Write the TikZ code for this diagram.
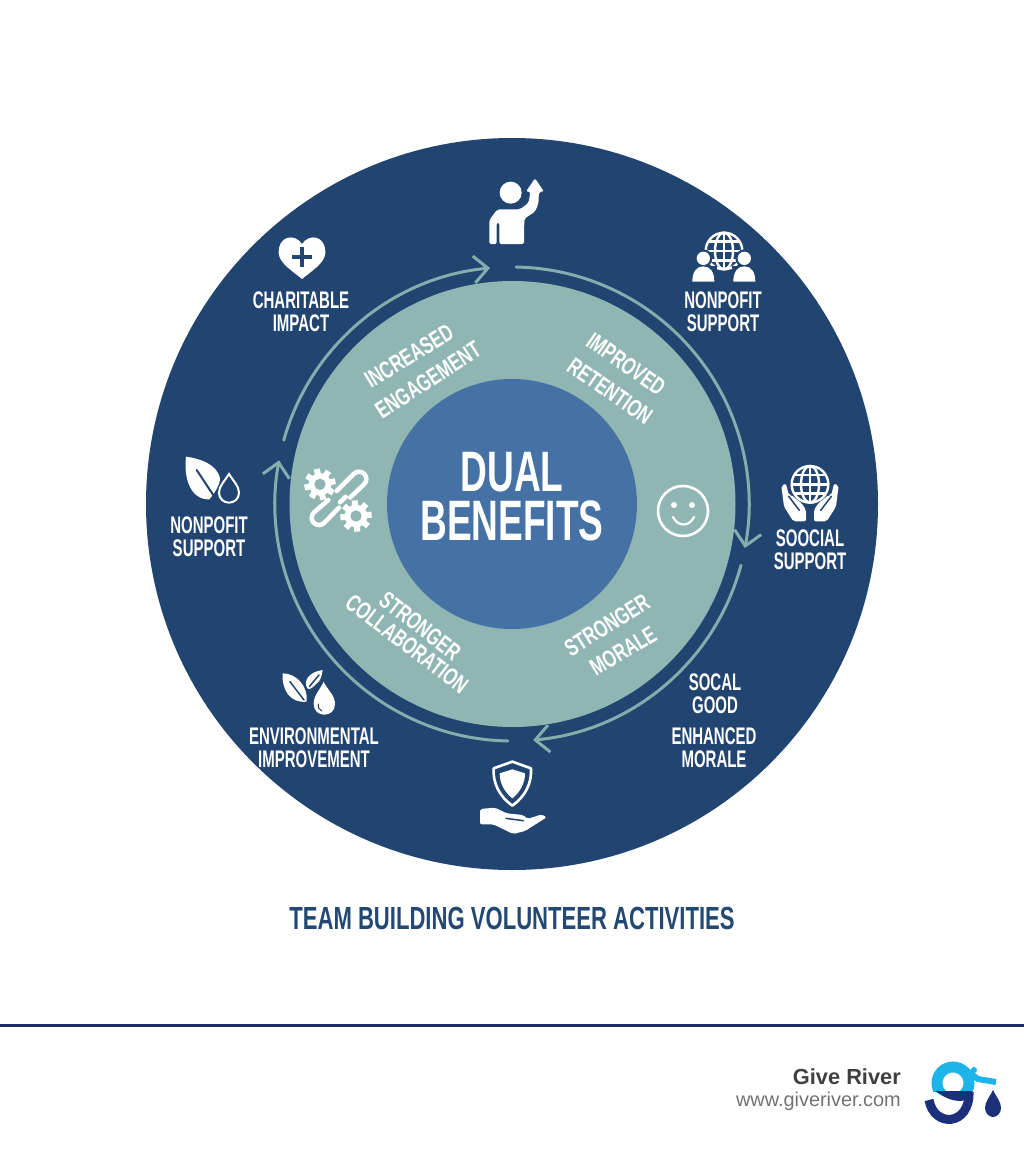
\documentclass[tikz,border=0pt]{standalone}
\usepackage{fontspec}
\usetikzlibrary{arrows.meta}
\setmainfont{Liberation Sans}
\newfontfamily\labfont[FakeStretch=0.625]{Liberation Sans}
\newfontfamily\ringfont[FakeStretch=0.70]{Liberation Sans}
\newfontfamily\dualfont[FakeStretch=0.65]{Liberation Sans}
\newfontfamily\titlefont[FakeStretch=0.69]{Liberation Sans}
\definecolor{outerblue}{HTML}{214470}
\definecolor{ringteal}{HTML}{8FB6B3}
\definecolor{coreblue}{HTML}{4671A4}
\definecolor{flowteal}{HTML}{82AEAE}
\definecolor{titleblue}{HTML}{234873}
\definecolor{ruleblue}{HTML}{1F2A6B}
\definecolor{logoblue}{HTML}{1DB5E8}
\definecolor{logonavy}{HTML}{1B2F7A}
\tikzset{
  lab/.style={text=white,font=\labfont\bfseries\fontsize{24}{23}\selectfont,align=center,inner sep=0pt},
  ringlab/.style={text=white,font=\ringfont\bfseries\fontsize{24}{25}\selectfont,inner sep=0pt},
  flow/.style={draw=flowteal,line width=3pt,line cap=round,fill=none},
  flowhead/.style={flow,-{Straight Barb[length=14pt,width=27pt,line width=3pt]}},
  zoomicon/.style={x=0.33333pt,y=-0.33333pt},
  cut/.style={draw=outerblue,line width=1.5pt,line cap=round},
  icstroke/.style={draw=white,line width=2.4pt,fill=none},
}
% gear: centre x, centre y, phase, in zoom units
\newcommand{\gearshape}[3]{%
  \foreach \a in {0,45,...,315}{
    \fill[white,rotate around={\a+#3:(#1,#2)}] (#1-9,#2-47) rectangle (#1+9,#2);
  }
  \fill[white] (#1,#2) circle[radius=34];
  \fill[ringteal] (#1,#2) circle[radius=17];
}
\begin{document}
\begin{tikzpicture}[x=1pt,y=-1pt]
\useasboundingbox (0,0) rectangle (1024,1154);
\fill[white] (0,0) rectangle (1024,1154);

% discs
\fill[outerblue] (512,504) circle[radius=366];
\fill[ringteal] (512.5,504) circle[radius=223];
\fill[coreblue] (512,504) circle[radius=125];

% flow arrows
\begin{scope}[shift={(512,504)}]
  \coordinate (a1) at (195.6:237);
  \coordinate (b1) at (271:237);
  \coordinate (c1) at (15:237);
  \coordinate (d1) at (91:237);
  \draw[flowhead] (a1) arc[start angle=195.6,end angle=264.7,radius=237];
  \draw[flowhead] (b1) arc[start angle=271,end angle=370.7,radius=237];
  \draw[flowhead] (c1) arc[start angle=15,end angle=84.9,radius=237];
  \draw[flowhead] (d1) arc[start angle=91,end angle=190.6,radius=237];
\end{scope}

% centre
\node[text=white,font=\dualfont\bfseries\fontsize{57}{58}\selectfont,inner sep=0pt] (dual) at (512,472) {DUAL};
\node[text=white,font=\dualfont\bfseries\fontsize{57}{58}\selectfont,inner sep=0pt] (benefits) at (512,521) {BENEFITS};

% ring labels
\node[ringlab,rotate=31.5] (r1a) at (409,356) {INCREASED};
\node[ringlab,rotate=33] (r1b) at (428,380) {ENGAGEMENT};
\node[ringlab,rotate=-35] (r2a) at (626,364) {IMPROVED};
\node[ringlab,rotate=-34.7] (r2b) at (610,391) {RETENTION};
\node[ringlab,rotate=-37.7] (r3a) at (420,626) {STRONGER};
\node[ringlab,rotate=-37] (r3b) at (407,644) {COLLABORATION};
\node[ringlab,rotate=32] (r4a) at (607,625) {STRONGER};
\node[ringlab,rotate=31] (r4b) at (623,651) {MORALE};

% outer labels
\node[lab] (l1) at (301,311.5) {CHARITABLE\\IMPACT};
\node[lab] (l2) at (723,311.5) {NONPOFIT\\SUPPORT};
\node[lab] (l3) at (810,549.5) {SOOCIAL\\SUPPORT};
\node[lab] (l4) at (209,536.5) {NONPOFIT\\SUPPORT};
\node[lab] (l5) at (314,747.5) {ENVIRONMENTAL\\IMPROVEMENT};
\node[lab] (l6) at (715,693.5) {SOCAL\\GOOD};
\node[lab] (l7) at (714,747.5) {ENHANCED\\MORALE};

% person with arrow
\begin{scope}[shift={(470,170)},zoomicon]
  \fill[white] (122,68) circle[radius=33];
  \fill[white,rounded corners=2pt] (58,222) -- (58,150) -- (82,118) -- (150,118) -- (176,98) -- (181,65) -- (168,65)
    -- (195,25) -- (222,65) -- (207,65) -- (205,102) -- (195,125) -- (163,146) -- (162,222) -- (88,222) -- (88,158) -- (80,158) -- (80,222) -- cycle;
\end{scope}

% heart
\begin{scope}[shift={(150,140)},zoomicon]
  \fill[white] (456,312) .. controls (435,280) and (385,285) .. (386,340)
     .. controls (388,370) and (430,395) .. (456,417)
     .. controls (482,395) and (524,370) .. (526,340)
     .. controls (527,285) and (477,280) .. (456,312) -- cycle;
  \fill[outerblue] (426,344) rectangle (486,357);
  \fill[outerblue] (449,322) rectangle (463,380);
\end{scope}

% globe and two people
\begin{scope}[shift={(685,225)},zoomicon]
  \draw[icstroke] (117,78) circle[radius=55];
  \draw[icstroke] (117,78) ellipse[x radius=27,y radius=55];
  \draw[icstroke] (117,23) -- (117,133);
  \draw[icstroke] (62,78) -- (172,78);
  \draw[icstroke] (70,50) -- (164,50);
  \draw[icstroke] (70,106) -- (164,106);
  \fill[outerblue] (55,100) circle[radius=27];
  \fill[outerblue] (178,100) circle[radius=27];
  \fill[outerblue] (15,122) rectangle (95,175);
  \fill[outerblue] (140,122) rectangle (218,175);
  \fill[white] (55,100) circle[radius=20];
  \fill[white] (178,100) circle[radius=20];
  \fill[white] (22,170) .. controls (22,140) and (35,124) .. (55,124) .. controls (75,124) and (88,140) .. (88,170) -- cycle;
  \fill[white] (145,170) .. controls (145,140) and (158,124) .. (178,124) .. controls (198,124) and (211,140) .. (211,170) -- cycle;
\end{scope}

% globe in hands
\begin{scope}[shift={(770,455)},zoomicon]
  \draw[icstroke] (120,88) circle[radius=55];
  \draw[icstroke] (120,88) ellipse[x radius=27,y radius=55];
  \draw[icstroke] (120,33) -- (120,143);
  \draw[icstroke] (65,88) -- (175,88);
  \draw[icstroke] (73,60) -- (167,60);
  \draw[icstroke] (73,116) -- (167,116);
  \fill[white,rounded corners=2pt] (34,92) -- (48,86) -- (56,120) -- (64,120) -- (96,146) -- (108,165) -- (108,199) -- (70,199) -- (42,155) -- cycle;
  \fill[white,rounded corners=2pt] (206,92) -- (192,86) -- (184,120) -- (176,120) -- (144,146) -- (132,165) -- (132,199) -- (170,199) -- (198,155) -- cycle;
  \draw[cut] (56,124) -- (88,166);
  \draw[cut] (184,124) -- (152,166);
\end{scope}

% leaf and drop outline
\begin{scope}[shift={(175,450)},zoomicon]
  \fill[white] (33,20) .. controls (70,25) and (125,40) .. (135,85) .. controls (135,105) and (118,130) .. (103,148)
     .. controls (50,150) and (25,90) .. (33,20) -- cycle;
  \draw[cut,line width=2pt] (65,60) -- (118,140);
  \draw[draw=white,line width=2pt] (162,72) .. controls (150,92) and (132,108) .. (132,128) .. controls (132,146) and (146,158) .. (162,158)
     .. controls (178,158) and (192,146) .. (192,128) .. controls (192,108) and (174,92) .. (162,72) -- cycle;
\end{scope}

% leaves and filled drop
\begin{scope}[shift={(150,500)},zoomicon]
  \fill[white] (398,520) .. controls (440,520) and (475,560) .. (470,605) .. controls (420,610) and (395,570) .. (398,520) -- cycle;
  \draw[cut] (420,545) -- (462,600);
  \fill[white] (518,510) .. controls (480,515) and (458,540) .. (472,565) .. controls (480,572) and (490,560) .. (500,550) .. controls (510,545) and (515,530) .. (518,510) -- cycle;
  \draw[cut] (507,525) -- (478,560);
  \fill[white] (521,545) .. controls (510,570) and (491,585) .. (491,612) .. controls (491,632) and (505,644) .. (523,644)
     .. controls (541,644) and (555,632) .. (555,612) .. controls (555,585) and (532,570) .. (521,545) -- cycle;
  \draw[cut,line width=1pt] (505,612) .. controls (503,622) and (508,630) .. (515,632);
\end{scope}

% shield in hand
\begin{scope}[shift={(470,755)},zoomicon]
  \draw[draw=white,line width=2.6pt,line join=round] (127,20) -- (183,40) .. controls (186,85) and (165,125) .. (127,152) .. controls (89,125) and (68,85) .. (71,40) -- cycle;
  \fill[white] (127,43) -- (165,55) .. controls (165,85) and (150,112) .. (127,130) .. controls (104,112) and (89,85) .. (89,55) -- cycle;
  \fill[white,rounded corners=2pt] (30,162) -- (75,158) -- (110,175) -- (160,180) -- (172,192) -- (215,178) -- (230,187) -- (165,228) -- (130,237) -- (70,208) -- (30,208) -- cycle;
  \draw[cut] (108,190) -- (160,197);
\end{scope}

% gears and chain link
\begin{scope}[shift={(295,455)},zoomicon]
  \gearshape{75}{88}{12}
  \gearshape{183}{183}{5}
  \draw[draw=white,line width=4.5pt,line cap=round] (125,108) -- (176.5,56.5) arc[start angle=225,end angle=405,radius=22] -- (165,128);
  \draw[draw=white,line width=4.5pt,line cap=round] (100,135) -- (56.5,172.5) arc[start angle=225,end angle=45,radius=22] -- (132,158);
  \draw[draw=white,line width=4.5pt,line cap=round] (135,142) -- (152,125);
\end{scope}

% smiley
\draw[draw=white,line width=2.6pt] (683,511) circle[radius=25];
\fill[white] (674,505) circle[radius=3];
\fill[white] (692,505) circle[radius=3];
\draw[draw=white,line width=2.2pt,line cap=round] (673,517) .. controls (678,527) and (689,527) .. (694,517);

% title
\node[text=titleblue,font=\titlefont\bfseries\fontsize{32}{34}\selectfont,inner sep=0pt] (title) at (512,918) {TEAM BUILDING VOLUNTEER ACTIVITIES};

% footer
\fill[ruleblue] (0,1023.5) rectangle (1024,1026.5);
\node[anchor=east,text=black!75,font=\bfseries\fontsize{21.8}{24}\selectfont,inner sep=0pt] (brand) at (901,1077) {Give River};
\node[anchor=east,text=black!55,font=\fontsize{19.9}{22}\selectfont,inner sep=0pt] (url) at (901,1101) {www.giveriver.com};

% logo
\begin{scope}
  \clip (920,1050) rectangle (1010,1091);
  \draw[draw=logoblue,line width=11pt] (953,1083) circle[radius=16];
\end{scope}
\draw[draw=logoblue,line width=6pt] (966,1070) -- (978,1079) -- (996,1082);
\fill[logoblue] (974,1070) circle[radius=3];
\fill[logonavy] (935,1091) -- (972,1091) -- (966,1100) .. controls (955,1103) and (945,1098) .. (935,1091) -- cycle;
\draw[draw=logonavy,line width=9pt] (929,1100) .. controls (934,1128) and (970,1126) .. (969,1092);
\fill[logonavy] (993,1090) .. controls (989,1098) and (985,1102) .. (985,1108) .. controls (985,1113) and (989,1117) .. (993,1117)
   .. controls (997,1117) and (1001,1113) .. (1001,1108) .. controls (1001,1102) and (997,1098) .. (993,1090) -- cycle;
\end{tikzpicture}
\end{document}
